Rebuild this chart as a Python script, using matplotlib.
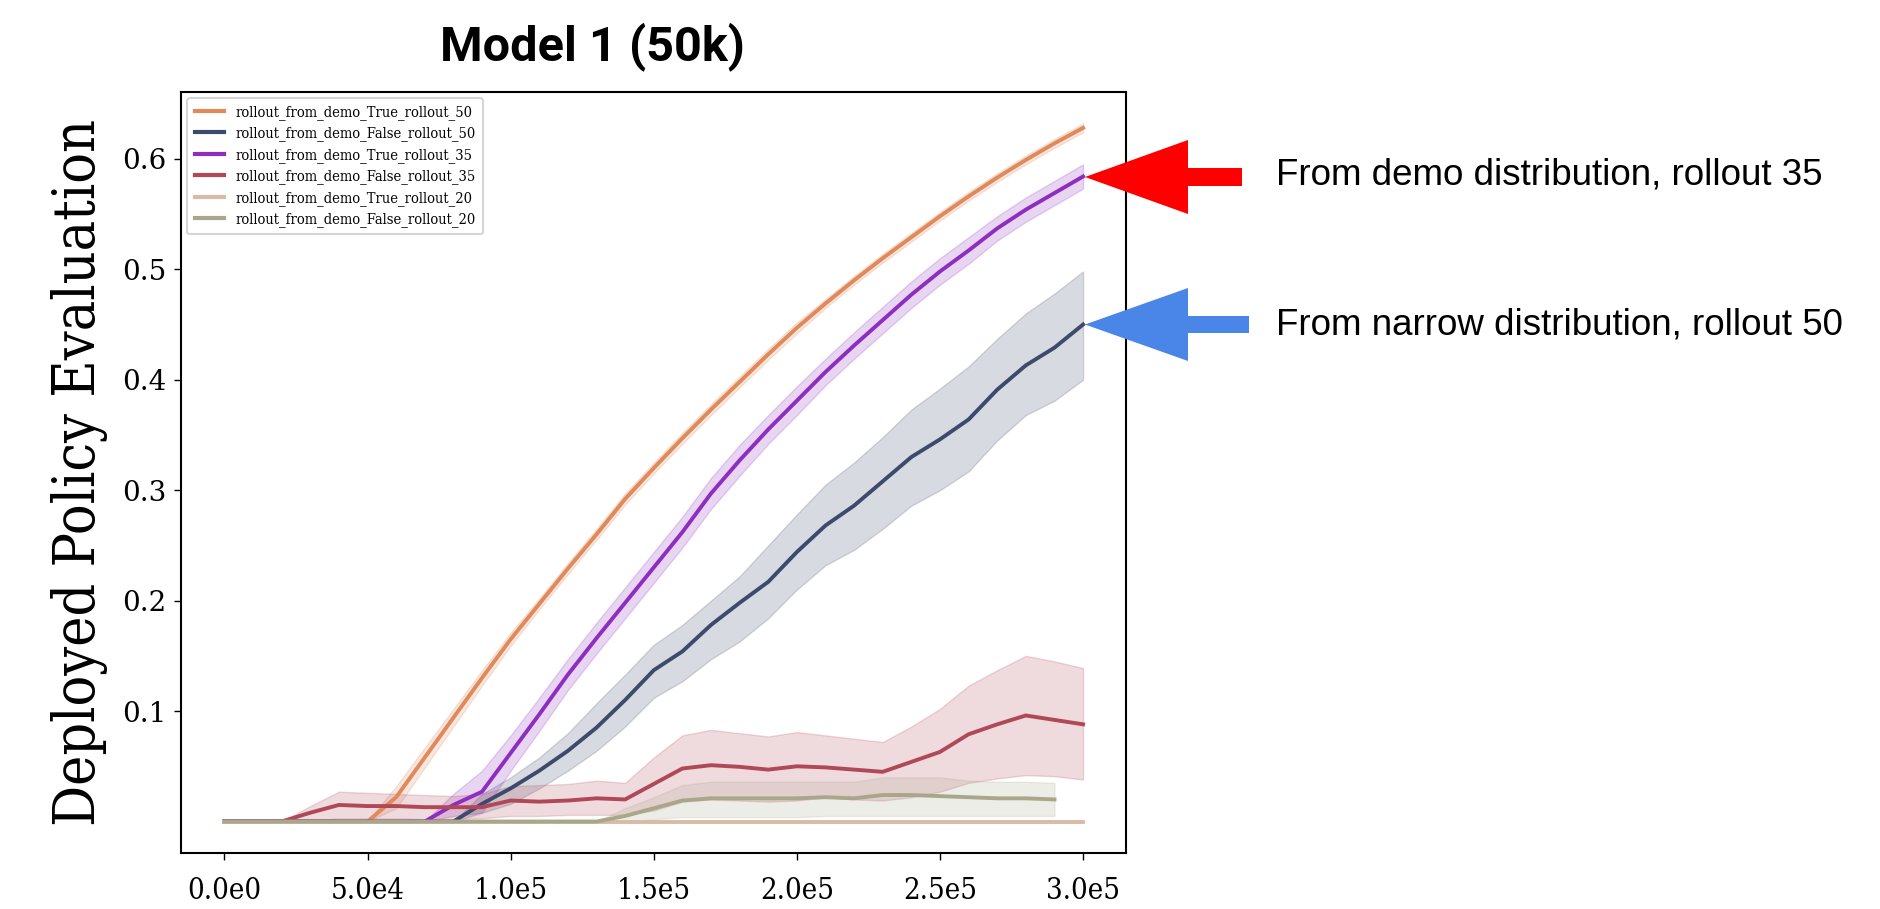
import matplotlib
matplotlib.use("Agg")
import matplotlib.pyplot as plt
from matplotlib.patches import Polygon
from matplotlib.ticker import FixedLocator, FuncFormatter
import numpy as np

# ---------------- data ----------------
steps = [0, 10000, 20000, 30000, 40000, 50000, 60000, 70000, 80000, 90000,
         100000, 110000, 120000, 130000, 140000, 150000, 160000, 170000, 180000, 190000,
         200000, 210000, 220000, 230000, 240000, 250000, 260000, 270000, 280000, 290000,
         300000]

labels = ["rollout_from_demo_True_rollout_50", "rollout_from_demo_False_rollout_50",
          "rollout_from_demo_True_rollout_35", "rollout_from_demo_False_rollout_35",
          "rollout_from_demo_True_rollout_20", "rollout_from_demo_False_rollout_20"]

true50_mean = [0, 0, 0, 0, 0, 0, 0.022, 0.058, 0.094, 0.130,
               0.165, 0.197, 0.229, 0.260, 0.292, 0.320, 0.347, 0.373, 0.398, 0.423,
               0.447, 0.469, 0.490, 0.510, 0.529, 0.548, 0.566, 0.583, 0.599, 0.614,
               0.628]
true50_ci = [0, 0, 0, 0, 0, 0, 0.010, 0.009, 0.008, 0.007,
             0.006, 0.005, 0.005, 0.005, 0.005, 0.005, 0.005, 0.005, 0.005, 0.005,
             0.005, 0.004, 0.004, 0.004, 0.004, 0.004, 0.004, 0.004, 0.004, 0.004,
             0.004]

false50_mean = [0, 0, 0, 0, 0, 0, 0, 0, 0, 0.016,
                0.030, 0.046, 0.064, 0.085, 0.110, 0.137, 0.154, 0.178, 0.198, 0.217,
                0.244, 0.268, 0.286, 0.308, 0.330, 0.346, 0.364, 0.391, 0.413, 0.429,
                0.450]
false50_low = [0, 0, 0, 0, 0, 0, 0, 0, 0, 0.008,
               0.016, 0.030, 0.046, 0.064, 0.086, 0.112, 0.127, 0.147, 0.163, 0.184,
               0.210, 0.232, 0.246, 0.265, 0.286, 0.300, 0.317, 0.345, 0.368, 0.381,
               0.400]
false50_high = [0, 0, 0, 0, 0, 0, 0, 0, 0, 0.025,
                0.040, 0.058, 0.080, 0.107, 0.133, 0.160, 0.178, 0.200, 0.222, 0.250,
                0.278, 0.305, 0.325, 0.348, 0.373, 0.392, 0.412, 0.437, 0.460, 0.478,
                0.498]

true35_mean = [0, 0, 0, 0, 0, 0, 0, 0, 0.015, 0.027,
               0.062, 0.097, 0.133, 0.166, 0.198, 0.230, 0.262, 0.297, 0.327, 0.355,
               0.381, 0.407, 0.431, 0.454, 0.477, 0.498, 0.517, 0.537, 0.554, 0.569,
               0.584]
true35_ci = [0, 0, 0, 0, 0, 0, 0, 0, 0.010, 0.019,
             0.016, 0.015, 0.014, 0.014, 0.014, 0.014, 0.014, 0.014, 0.014, 0.013,
             0.013, 0.012, 0.012, 0.012, 0.012, 0.012, 0.012, 0.011, 0.011, 0.011,
             0.011]

false35_mean = [0, 0, 0, 0.008, 0.015, 0.014, 0.014, 0.013, 0.013, 0.013,
                0.019, 0.018, 0.019, 0.021, 0.020, 0.034, 0.048, 0.051, 0.0495, 0.047,
                0.050, 0.049, 0.047, 0.045, 0.054, 0.063, 0.079, 0.088, 0.096, 0.092,
                0.088]
false35_low = [0, 0, 0, 0, 0.003, 0.003, 0.003, 0.002, 0.002, 0.003,
               0.005, 0.005, 0.006, 0.006, 0.006, 0.010, 0.018, 0.020, 0.019, 0.018,
               0.019, 0.022, 0.020, 0.019, 0.022, 0.027, 0.035, 0.039, 0.042, 0.041,
               0.038]
false35_high = [0, 0, 0, 0.014, 0.027, 0.026, 0.025, 0.024, 0.023, 0.025,
                0.032, 0.033, 0.034, 0.037, 0.035, 0.058, 0.078, 0.083, 0.080, 0.077,
                0.081, 0.078, 0.075, 0.072, 0.086, 0.102, 0.123, 0.137, 0.150, 0.145,
                0.139]

true20_mean = [0] * 31

false20_steps = steps[:30]
false20_mean = [0, 0, 0, 0, 0, 0, 0, 0, 0, 0,
                0, 0, 0, 0, 0.005, 0.012, 0.019, 0.021, 0.021, 0.021,
                0.021, 0.022, 0.021, 0.024, 0.024, 0.023, 0.022, 0.021, 0.021, 0.020]
false20_low = [0, 0, 0, 0, 0, 0, 0, 0, 0, 0,
               0, 0, 0, 0, 0, 0.002, 0.004, 0.004, 0.004, 0.004,
               0.004, 0.005, 0.005, 0.005, 0.005, 0.005, 0.005, 0.005, 0.005, 0.005]
false20_high = [0, 0, 0, 0, 0, 0, 0, 0, 0, 0,
                0, 0, 0, 0, 0.012, 0.022, 0.033, 0.036, 0.036, 0.036,
                0.036, 0.036, 0.036, 0.040, 0.040, 0.040, 0.037, 0.036, 0.036, 0.035]

colors = ["#E0895A", "#3D4A6B", "#8E2EC0", "#B04858", "#D6BCA8", "#A8A78A"]

x_ticks = [0, 50000, 100000, 150000, 200000, 250000, 300000]
y_ticks = [0.1, 0.2, 0.3, 0.4, 0.5, 0.6]

# ---------------- figure ----------------
W, H = 1881, 909
fig = plt.figure(figsize=(W / 100, H / 100), dpi=100)
fig.patch.set_facecolor("white")

def fx(px):
    return px / W

def fy(py):
    return 1 - py / H

ax = fig.add_axes([fx(181.5), fy(853), fx(1126) - fx(181.5), fy(92) - fy(853)])

serif_c = dict(family="DejaVu Serif", stretch="condensed")

s = np.array(steps)
def band(xv, lo, hi, c):
    ax.fill_between(xv, lo, hi, color=c, alpha=0.2, linewidth=1.0)

lw = 2.8
# True 50
m = np.array(true50_mean); ci = np.array(true50_ci)
ax.plot(s, m, color=colors[0], lw=lw, label=labels[0])
band(s, m - ci, m + ci, colors[0])
# False 50
ax.plot(s, false50_mean, color=colors[1], lw=lw, label=labels[1])
band(s, false50_low, false50_high, colors[1])
# True 35
m = np.array(true35_mean); ci = np.array(true35_ci)
ax.plot(s, m, color=colors[2], lw=lw, label=labels[2])
band(s, np.clip(m - ci, 0, None), m + ci, colors[2])
# False 35
ax.plot(s, false35_mean, color=colors[3], lw=lw, label=labels[3])
band(s, false35_low, false35_high, colors[3])
# True 20
ax.plot(s, true20_mean, color=colors[4], lw=lw, label=labels[4])
# False 20
ax.plot(false20_steps, false20_mean, color=colors[5], lw=lw, label=labels[5])
band(false20_steps, false20_low, false20_high, colors[5])

ax.set_xlim(-15000, 315000)
ax.set_ylim(-0.0285, 0.6605)

def sci_fmt(v, pos):
    if v == 0:
        return "0.0e0"
    e = int(np.floor(np.log10(abs(v))))
    mant = v / 10 ** e
    return f"{mant:.1f}e{e}"

ax.xaxis.set_major_locator(FixedLocator(x_ticks))
ax.xaxis.set_major_formatter(FuncFormatter(sci_fmt))
ax.yaxis.set_major_locator(FixedLocator(y_ticks))
ax.yaxis.set_major_formatter(FuncFormatter(lambda v, p: f"{v:.1f}"))

ax.tick_params(axis="x", length=5, width=1, pad=12, labelsize=21)
ax.tick_params(axis="y", length=5, width=1, pad=6, labelsize=20)
for lab in ax.get_xticklabels():
    lab.set_family("DejaVu Serif")
    lab.set_stretch("condensed")
for lab in ax.get_yticklabels():
    lab.set_family("DejaVu Serif")

for sp in ax.spines.values():
    sp.set_linewidth(1.5)
    sp.set_color("black")

ax.set_ylabel("Deployed Policy Evaluation", fontsize=41, va="center", **serif_c)
ax.yaxis.set_label_coords((80 - 181.5) / (1126 - 181.5), 0.5)

leg = ax.legend(loc="upper left", prop=dict(size=10.5, **serif_c),
                handlelength=2.0, labelspacing=0.45, borderaxespad=0.4,
                frameon=True, fancybox=True, borderpad=0.5, handletextpad=0.8)
leg.get_frame().set_edgecolor("#cccccc")
leg.get_frame().set_linewidth(1.5)
for l in leg.get_lines():
    l.set_linewidth(3)

# title
fig.text(fx(592), fy(47), "Model 1 (50k)", ha="center", va="center",
         fontfamily="Roboto", fontweight="bold", fontsize=35)

# arrows + annotations
def arrow(tip_x, cy, head_x, head_half, tail_x, tail_half, color):
    pts = [(tip_x, cy), (head_x, cy - head_half), (head_x, cy - tail_half),
           (tail_x, cy - tail_half), (tail_x, cy + tail_half), (head_x, cy + tail_half),
           (head_x, cy + head_half)]
    poly = Polygon([(fx(a), fy(b)) for a, b in pts], closed=True,
                   transform=fig.transFigure, facecolor=color, edgecolor="none",
                   clip_on=False)
    fig.patches.append(poly)

arrow(1085, 177, 1188, 37, 1242, 9, "#FF0000")
arrow(1085, 324.5, 1188, 36.5, 1249, 8.5, "#4A86E8")

fig.text(fx(1276), fy(175), "From demo distribution, rollout 35", ha="left", va="center",
         fontfamily="Liberation Sans", fontsize=26.5)
fig.text(fx(1276), fy(325), "From narrow distribution, rollout 50", ha="left", va="center",
         fontfamily="Liberation Sans", fontsize=26.5)

fig.savefig("out.png", dpi=100)
